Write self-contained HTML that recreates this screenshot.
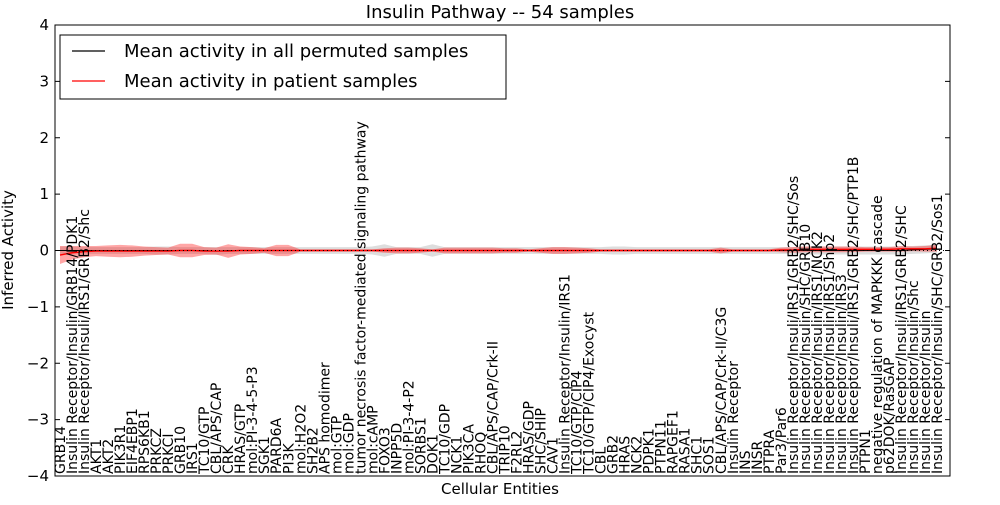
<!DOCTYPE html>
<html><head><meta charset="utf-8"><style>
body{margin:0;background:#fff;font-family:"Liberation Sans","DejaVu Sans",sans-serif}
</style></head><body>
<svg id="c" width="1000" height="500" xmlns="http://www.w3.org/2000/svg" font-family="DejaVu Sans, Liberation Sans, sans-serif">
<rect width="1000" height="500" fill="#fff"/>
<text x="500" y="18" text-anchor="middle" font-size="18">Insulin Pathway -- 54 samples</text>
<g id="plot"></g>
<text x="500" y="494" text-anchor="middle" font-size="15">Cellular Entities</text>
<text transform="translate(13,250) rotate(-90)" text-anchor="middle" font-size="15">Inferred Activity</text>
<g>
<rect x="60" y="35" width="446" height="64" fill="#fff" stroke="#000" stroke-width="1"/>
<line x1="72" y1="51" x2="105" y2="51" stroke="#000" stroke-width="1.2"/>
<text x="124" y="57" font-size="18">Mean activity in all permuted samples</text>
<line x1="72" y1="81" x2="105" y2="81" stroke="#f00" stroke-width="1.2"/>
<text x="124" y="87" font-size="18">Mean activity in patient samples</text>
</g>
</svg>
<script>
const categories=["GRB14","Insulin Receptor/Insulin/GRB14/PDK1","Insulin Receptor/Insuli/IRS1/GRB2/Shc","AKT1","AKT2","PIK3R1","EIF4EBP1","RPS6KB1","PRKCZ","PRKCI","GRB10","IRS1","TC10/GTP","CBL/APS/CAP","CRK","HRAS/GTP","mol:PI-3-4-5-P3","SGK1","PARD6A","PI3K","mol:H2O2","SH2B2","APS homodimer","mol:GTP","mol:GDP","tumor necrosis factor-mediated signaling pathway","mol:cAMP","FOXO3","INPP5D","mol:PI-3-4-P2","SORBS1","DOK1","TC10/GDP","NCK1","PIK3CA","RHOQ","CBL/APS/CAP/Crk-II","TRIP10","F2RL2","HRAS/GDP","SHC/SHIP","CAV1","Insulin Receptor/Insulin/IRS1","TC10/GTP/CIP4","TC10/GTP/CIP4/Exocyst","CBL","GRB2","HRAS","NCK2","PDPK1","PTPN11","RAPGEF1","RASA1","SHC1","SOS1","CBL/APS/CAP/Crk-II/C3G","Insulin Receptor","INS","INSR","PTPRA","Par3/Par6","Insulin Receptor/Insuli/IRS1/GRB2/SHC/Sos","Insulin Receptor/Insulin/SHC/GRB10","Insulin Receptor/Insulin/IRS1/NCK2","Insulin Receptor/Insulin/IRS1/Shp2","Insulin Receptor/Insulin/IRS3","Insulin Receptor/Insuli/IRS1/GRB2/SHC/PTP1B","PTPN1","negative regulation of MAPKKK cascade","p62DOK/RasGAP","Insulin Receptor/Insuli/IRS1/GRB2/SHC","Insulin Receptor/Insulin/Shc","Insulin Receptor/Insulin","Insulin Receptor/Insulin/SHC/GRB2/Sos1"];
const patientMean=[-0.08,-0.04,-0.02,-0.01,-0.01,-0.01,-0.01,-0.01,-0.01,-0.01,0,0,-0.01,-0.01,-0.01,0,0,0,0,0,0,0,0,0,0,0,0,0,0,0,0,0,0,0,0,0,0,0,0,0,0,0,0,0,0,0,0,0,0,0,0,0,0,0,0,0,0,0,0,0,0.01,0.01,0.02,0.02,0.02,0.02,0.02,0.02,0.02,0.02,0.03,0.03,0.03,0.04];
const patientSpread=[0.16,0.12,0.1,0.09,0.1,0.11,0.1,0.08,0.07,0.06,0.12,0.12,0.07,0.06,0.12,0.07,0.06,0.04,0.1,0.1,0.02,0.02,0.02,0.02,0.02,0.02,0.02,0.04,0.05,0.05,0.04,0.02,0.05,0.05,0.05,0.05,0.05,0.04,0.04,0.02,0.04,0.06,0.06,0.05,0.04,0.02,0.02,0.02,0.02,0.02,0.02,0.02,0.02,0.02,0.02,0.05,0.02,0.02,0.02,0.02,0.04,0.05,0.05,0.05,0.05,0.05,0.05,0.04,0.04,0.04,0.05,0.04,0.05,0.06];
const permMean=[0,0,0,0,0,0,0,0,0,0,0,0,0,-0.01,0,0,0,0,0,0,0,0,0,0,0,0,0,0,0,0,0,0,0,0,0,0,0,0,0,0,0,0,0,0,0,0,0,0,0,0,0,0,0,0,0,0,0,0,0,0,0,0,0,0,0,0,0,0,0,0,0,0.01,0.02,0.03];
const permSpread=[0.07,0.07,0.06,0.06,0.06,0.06,0.06,0.06,0.07,0.07,0.06,0.06,0.06,0.07,0.06,0.06,0.06,0.06,0.06,0.06,0.06,0.06,0.06,0.06,0.06,0.06,0.07,0.11,0.06,0.06,0.06,0.11,0.06,0.06,0.06,0.06,0.06,0.06,0.06,0.06,0.06,0.06,0.06,0.06,0.06,0.06,0.07,0.07,0.06,0.06,0.06,0.06,0.06,0.06,0.06,0.06,0.06,0.06,0.06,0.06,0.06,0.06,0.07,0.07,0.07,0.07,0.07,0.07,0.07,0.07,0.07,0.07,0.07,0.07];
const yTicks=[-4,-3,-2,-1,0,1,2,3,4];
const NS="http://www.w3.org/2000/svg";
const L=55,R=950,T=25,B=476;
const xs=i=>60+i*(937-60)/(categories.length-1);
const ys=v=>T+(4-v)*(B-T)/8;
const g=document.getElementById('plot');
function mk(t,a){const e=document.createElementNS(NS,t);for(const k in a)e.setAttribute(k,a[k]);g.appendChild(e);return e;}
function band(m,s){let up=m.map((v,i)=>xs(i)+','+ys(v+s[i]));let dn=m.map((v,i)=>xs(i)+','+ys(v-s[i])).reverse();return up.concat(dn).join(' ');}
function line(m){return m.map((v,i)=>xs(i)+','+ys(v)).join(' ');}
let e=mk('polygon',{points:band(permMean,permSpread),fill:'#bbb','fill-opacity':0.5});


e=mk('polygon',{points:band(patientMean,patientSpread),fill:'#f00','fill-opacity':0.35});


e=mk('polyline',{points:line(permMean),fill:'none',stroke:'#000','stroke-width':1});


e=mk('polyline',{points:line(patientMean),fill:'none',stroke:'#f00','stroke-width':1.4});


e=mk('line',{x1:L,x2:R,y1:ys(0),y2:ys(0),stroke:'#000','stroke-width':1,'stroke-dasharray':'1,3'});


yTicks.forEach(v=>{
  const y=ys(v);
  let t=mk('line',{x1:L,x2:L+5,y1:y,y2:y,stroke:'#000'});
  
  
  t=mk('line',{x1:R-5,x2:R,y1:y,y2:y,stroke:'#000'});
  
  
  const lb=mk('text',{x:L-6,y:y+5,'text-anchor':'end','font-size':15});
  lb.textContent=(v<0?'\u2212'+(-v):v);
  
  
});
categories.forEach((c,i)=>{
  const x=xs(i);
  const lb=mk('text',{transform:`translate(${x+5},${B-2}) rotate(-90)`,'font-size':14});
  lb.textContent=c;
  
  
});
e=mk('rect',{x:L,y:T,width:R-L,height:B-T,fill:'none',stroke:'#000','stroke-width':1});


</script>
</body></html>
